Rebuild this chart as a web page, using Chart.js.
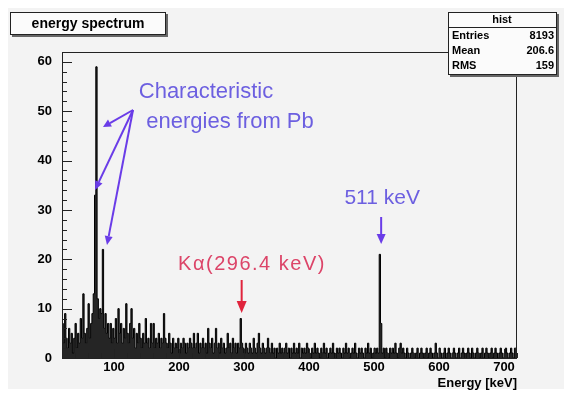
<!DOCTYPE html>
<html>
<head>
<meta charset="utf-8">
<script src="https://cdn.jsdelivr.net/npm/chart.js@4/dist/chart.umd.min.js"></script>
<style>
  html, body { margin: 0; padding: 0; background: #fff; }
  #wrap { width: 564px; height: 393px; }
</style>
</head>
<body>
<div id="wrap"><canvas id="spectrum" width="564" height="393"></canvas></div>
<script>
// histogram: 2 keV bins starting at 20 keV
const binLow = 20;
const binWidth = 2;
const counts = [
  5, 7, 3, 9, 4, 2, 6, 3, 5, 1,
  4, 7, 2, 5, 3, 8, 4, 13, 5, 3,
  6, 11, 4, 7, 9, 13, 33, 59, 12, 8,
  10, 9, 22, 6, 9, 5, 7, 4, 7, 3,
  6, 4, 8, 3, 10, 5, 7, 3, 6, 4,
  11, 5, 3, 7, 10, 4, 6, 2, 5, 3,
  7, 4, 2, 5, 3, 8, 3, 4, 2, 7,
  3, 7, 2, 4, 3, 5, 2, 4, 3, 9,
  4, 3, 2, 5, 3, 1, 4, 2, 3, 2,
  4, 1, 3, 2, 4, 3, 1, 3, 2, 4,
  3, 2, 5, 2, 3, 5, 1, 3, 2, 4,
  2, 3, 1, 6, 3, 2, 4, 1, 3, 6,
  2, 3, 1, 4, 2, 3, 1, 2, 5, 2,
  3, 1, 4, 2, 3, 1, 3, 2, 8, 3,
  2, 1, 3, 2, 1, 3, 2, 1, 4, 2,
  1, 3, 5, 2, 1, 3, 2, 1, 2, 4,
  2, 1, 3, 1, 2, 0, 2, 1, 3, 1,
  2, 1, 2, 3, 1, 2, 0, 2, 1, 3,
  1, 2, 1, 3, 0, 2, 1, 2, 1, 3,
  2, 1, 0, 2, 1, 3, 1, 2, 1, 0,
  2, 1, 3, 1, 2, 0, 1, 2, 1, 3,
  1, 0, 2, 1, 2, 1, 0, 2, 1, 3,
  1, 2, 0, 1, 2, 1, 3, 1, 0, 2,
  1, 2, 1, 0, 2, 1, 3, 1, 2, 0,
  1, 2, 1, 2, 1, 21, 7, 1, 2, 0,
  2, 1, 0, 2, 1, 2, 1, 3, 1, 0,
  2, 3, 1, 2, 1, 0, 2, 1, 0, 1,
  2, 1, 0, 1, 2, 0, 1, 2, 1, 0,
  1, 2, 0, 1, 2, 1, 0, 1, 3, 1,
  0, 2, 1, 0, 1, 2, 0, 1, 2, 1,
  0, 1, 2, 1, 0, 1, 2, 0, 1, 2,
  1, 0, 1, 2, 1, 0, 2, 1, 0, 1,
  2, 1, 0, 1, 2, 0, 1, 2, 1, 0,
  1, 2, 0, 1, 2, 1, 0, 1, 2, 1,
  0, 1, 2, 1, 0, 1, 2, 1, 0, 2
];
const xTicks = [100, 200, 300, 400, 500, 600, 700];
const yTicks = [0, 10, 20, 30, 40, 50, 60];
const statLabels = ['Entries', 'Mean', 'RMS'];
const statValues = ['8193', '206.6', '159'];

const FONT = "'Liberation Sans', Arial, sans-serif";

// step points on bin edges, last edge repeats last count
const points = counts.map((c, i) => ({ x: binLow + i * binWidth, y: c }));
points.push({ x: binLow + counts.length * binWidth, y: counts[counts.length - 1] });

function arrow(ctx, x1, y1, x2, y2, color, lw, headLen, headW) {
    const a = Math.atan2(y2 - y1, x2 - x1);
    const bx = x2 - Math.cos(a) * headLen;
    const by = y2 - Math.sin(a) * headLen;
    ctx.strokeStyle = color;
    ctx.fillStyle = color;
    ctx.lineWidth = lw;
    ctx.beginPath();
    ctx.moveTo(x1, y1);
    ctx.lineTo(bx, by);
    ctx.stroke();
    ctx.beginPath();
    ctx.moveTo(x2, y2);
    ctx.lineTo(bx + Math.sin(a) * headW / 2, by - Math.cos(a) * headW / 2);
    ctx.lineTo(bx - Math.sin(a) * headW / 2, by + Math.cos(a) * headW / 2);
    ctx.closePath();
    ctx.fill();
}

function shadowBox(ctx, x, y, w, h) {
    ctx.fillStyle = '#666';
    ctx.fillRect(x + 2, y + 2, w, h);
    ctx.fillStyle = '#fbfbfb';
    ctx.fillRect(x, y, w, h);
    ctx.strokeStyle = '#222';
    ctx.lineWidth = 1;
    ctx.strokeRect(x + 0.5, y + 0.5, w - 1, h - 1);
}

const rootStyle = {
    id: 'rootStyle',
    beforeDraw(chart) {
        const ctx = chart.ctx;
        ctx.save();
        ctx.fillStyle = '#fff';
        ctx.fillRect(0, 0, chart.width, chart.height);
        ctx.fillStyle = '#f3f3f3';
        ctx.fillRect(8, 8, chart.width - 8, chart.height - 12);
        ctx.restore();
    },
    afterDraw(chart) {
        const ctx = chart.ctx;
        const { left, right, top, bottom } = chart.chartArea;
        const xs = chart.scales.x, ys = chart.scales.y;
        ctx.save();

        // frame
        ctx.strokeStyle = '#222';
        ctx.lineWidth = 1;
        ctx.strokeRect(left + 0.5, top + 0.5, right - left - 1, bottom - top);

        // ticks inside the frame
        ctx.beginPath();
        for (let v = 0; v <= 62; v += 2) {
            const y = Math.round(ys.getPixelForValue(v)) + 0.5;
            const len = v % 10 === 0 ? 10 : 5;
            ctx.moveTo(left, y);
            ctx.lineTo(left + len, y);
        }
        for (let v = 20; v <= 720; v += 20) {
            const x = Math.round(xs.getPixelForValue(v)) + 0.5;
            const len = v % 100 === 0 ? 9 : 5;
            ctx.moveTo(x, bottom);
            ctx.lineTo(x, bottom - len);
        }
        ctx.stroke();

        // title box
        shadowBox(ctx, 10, 12, 156, 23);
        ctx.fillStyle = '#000';
        ctx.font = 'bold 14px ' + FONT;
        ctx.textAlign = 'center';
        ctx.textBaseline = 'middle';
        ctx.fillText('energy spectrum', 88, 24);

        // stats box
        shadowBox(ctx, 448, 12, 109, 63);
        ctx.beginPath();
        ctx.moveTo(448, 27.5);
        ctx.lineTo(557, 27.5);
        ctx.stroke();
        ctx.fillStyle = '#000';
        ctx.font = 'bold 11px ' + FONT;
        ctx.textAlign = 'center';
        ctx.fillText('hist', 502, 20);
        statLabels.forEach((lab, i) => {
            const y = 36 + i * 15;
            ctx.textAlign = 'left';
            ctx.fillText(lab, 452, y);
            ctx.textAlign = 'right';
            ctx.fillText(statValues[i], 554, y);
        });

        // annotations
        const blue = '#6c5fe0';
        const blueArrow = '#6a3ce8';
        ctx.textAlign = 'center';
        ctx.font = '22px ' + FONT;
        ctx.fillStyle = blue;
        ctx.fillText('Characteristic', 206, 92);
        ctx.fillText('energies from Pb', 230, 122);
        arrow(ctx, 133, 110, 103, 127, blueArrow, 2, 8, 8);
        arrow(ctx, 133, 110, 95, 190, blueArrow, 2, 9, 8);
        arrow(ctx, 133, 110, 107, 245, blueArrow, 2, 9, 8);

        const x511 = xs.getPixelForValue(511);
        ctx.fillStyle = blue;
        ctx.font = '21px ' + FONT;
        ctx.fillText('511 keV', x511 + 1, 198);
        arrow(ctx, x511, 217, x511, 244, blueArrow, 2, 10, 9);

        const xKa = xs.getPixelForValue(296.4);
        ctx.fillStyle = '#dc4468';
        ctx.font = '20px ' + FONT;
        ctx.letterSpacing = '1.5px';
        ctx.fillText('K\u03b1(296.4 keV)', 252, 264);
        ctx.letterSpacing = '0px';
        arrow(ctx, xKa, 280, xKa, 313, '#e0243c', 2, 12, 10);

        ctx.restore();
    }
};

const tickFont = { family: FONT, weight: 'bold', size: 13 };

new Chart(document.getElementById('spectrum'), {
    type: 'line',
    data: {
        datasets: [{
            label: 'hist',
            data: points,
            stepped: 'after',
            borderColor: '#000',
            borderWidth: 1,
            backgroundColor: 'rgba(0, 0, 0, 0.85)',
            fill: 'origin',
            pointRadius: 0,
            tension: 0
        }]
    },
    options: {
        responsive: false,
        animation: false,
        devicePixelRatio: 1,
        layout: { padding: { top: 52, right: 47, left: 0, bottom: 0 } },
        plugins: {
            legend: { display: false },
            tooltip: { enabled: false }
        },
        scales: {
            x: {
                type: 'linear',
                min: 20,
                max: 720,
                afterBuildTicks: s => { s.ticks = xTicks.map(v => ({ value: v })); },
                afterFit: s => { s.height = 35; },
                grid: { display: false, drawTicks: false },
                border: { display: false },
                ticks: { color: '#000', font: tickFont, padding: 2, maxRotation: 0, autoSkip: false },
                title: {
                    display: true,
                    text: 'Energy [keV]',
                    align: 'end',
                    color: '#000',
                    font: tickFont,
                    padding: { top: 0, bottom: 2 }
                }
            },
            y: {
                type: 'linear',
                min: 0,
                max: 62,
                afterBuildTicks: s => { s.ticks = yTicks.map(v => ({ value: v })); },
                afterFit: s => { s.width = 62; },
                grid: { display: false, drawTicks: false },
                border: { display: false },
                ticks: { color: '#000', font: tickFont, padding: 10 }
            }
        }
    },
    plugins: [rootStyle]
});
</script>
</body>
</html>
